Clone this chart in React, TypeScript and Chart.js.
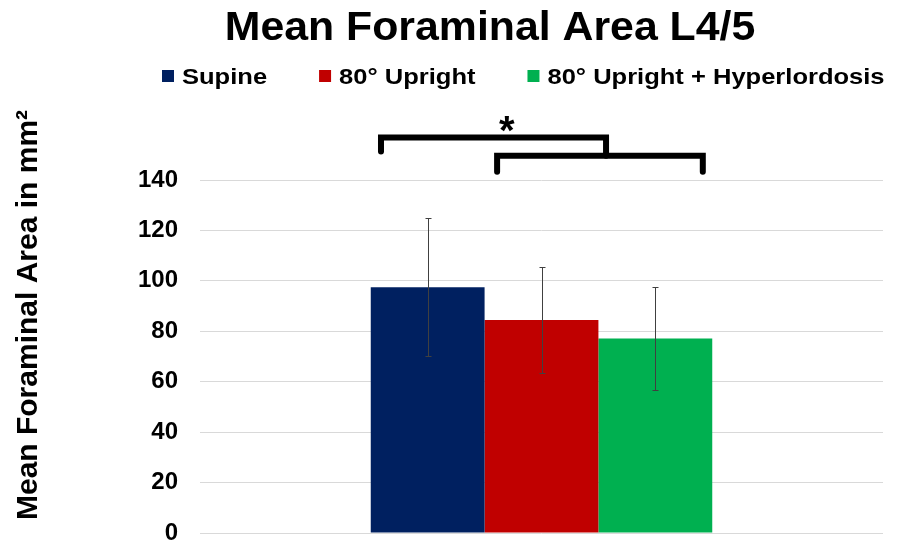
import React, { useEffect, useRef } from 'react';
import { Chart, registerables } from 'chart.js';

Chart.register(...registerables);

// ---- data ----
const categories = ['L4/5'];
const seriesLabels = ['Supine', '80° Upright', '80° Upright + Hyperlordosis'];
const seriesColors = ['#002060', '#C00000', '#00B050'];
const meanSupine = [97.5];
const meanUpright = [84.5];
const meanHyper = [77.1];
const sdSupine = [27.4];
const sdUpright = [21.0];
const sdHyper = [20.3];
const yMin = 0;
const yMax = 140;
const yStep = 20;
const titleText = 'Mean Foraminal Area L4/5';
const yTitleText = 'Mean Foraminal Area in mm²';
const significanceMark = '*';
// significance brackets, levels in y-axis units
const bracketOuterLevels = [156.9, 151.3, 149.6]; // top, left end, right join
const bracketInnerLevels = [149.6, 143.3]; // top, ends
const starLevel = [162.4];

const FONT = '"Liberation Sans", Arial, Helvetica, sans-serif';

const means = [meanSupine, meanUpright, meanHyper];
const sds = [sdSupine, sdUpright, sdHyper];

const overlayPlugin = {
  id: 'overlay',
  afterDatasetsDraw(chart: any) {
    const ctx = chart.ctx;
    const y = chart.scales.y;
    ctx.save();
    ctx.strokeStyle = '#404040';
    ctx.lineWidth = 1;
    sds.forEach((sd, i) => {
      const meta = chart.getDatasetMeta(i);
      meta.data.forEach((bar: any, j: number) => {
        const v = means[i][j];
        const s = sd[j];
        const x = Math.round(bar.x) + 0.5;
        const yt = Math.round(y.getPixelForValue(v + s)) + 0.5;
        const yb = Math.round(y.getPixelForValue(v - s)) + 0.5;
        ctx.beginPath();
        ctx.moveTo(x, yt);
        ctx.lineTo(x, yb);
        ctx.moveTo(x - 3, yt);
        ctx.lineTo(x + 3, yt);
        ctx.moveTo(x - 3, yb);
        ctx.lineTo(x + 3, yb);
        ctx.stroke();
      });
    });
    ctx.restore();
  },
  afterDraw(chart: any) {
    const ctx = chart.ctx;
    const y = chart.scales.y;
    const py = (v: number) => y.getPixelForValue(v);

    ctx.save();
    ctx.fillStyle = '#000';

    // Title
    ctx.font = `bold 40px ${FONT}`;
    ctx.textAlign = 'center';
    ctx.textBaseline = 'alphabetic';
    ctx.save();
    ctx.translate(490, 40);
    ctx.scale(1.07, 1);
    ctx.fillText(titleText, 0, 0);
    ctx.restore();

    // Legend
    ctx.font = `bold 22px ${FONT}`;
    ctx.textAlign = 'left';
    const sx = 1.16;
    let lx = 162;
    seriesLabels.forEach((label, i) => {
      ctx.fillStyle = seriesColors[i];
      ctx.fillRect(lx, 70, 12, 12);
      lx += 12 + 8;
      ctx.fillStyle = '#000';
      ctx.save();
      ctx.translate(lx, 83.5);
      ctx.scale(sx, 1);
      ctx.fillText(label, 0, 0);
      ctx.restore();
      lx += ctx.measureText(label).width * sx + 52;
    });

    // Y axis title
    ctx.font = `bold 30px ${FONT}`;
    ctx.textAlign = 'center';
    ctx.save();
    ctx.translate(37, 315);
    ctx.rotate(-Math.PI / 2);
    ctx.fillText(yTitleText, 0, 0);
    ctx.restore();

    // Significance brackets
    const b = [0, 1, 2].map((i) => chart.getDatasetMeta(i).data[0]);
    const w = b[0].width;
    const xA1 = b[0].x - 0.41 * w;
    const xA2 = b[1].x + 0.567 * w;
    const xB1 = b[1].x - 0.39 * w;
    const xB2 = b[2].x + 0.417 * w;
    ctx.strokeStyle = '#000';
    ctx.lineWidth = 6;
    ctx.lineCap = 'round';
    ctx.lineJoin = 'miter';
    ctx.beginPath();
    ctx.moveTo(xA1, py(bracketOuterLevels[1]));
    ctx.lineTo(xA1, py(bracketOuterLevels[0]));
    ctx.lineTo(xA2, py(bracketOuterLevels[0]));
    ctx.lineTo(xA2, py(bracketOuterLevels[2]));
    ctx.stroke();
    ctx.beginPath();
    ctx.moveTo(xB1, py(bracketInnerLevels[1]));
    ctx.lineTo(xB1, py(bracketInnerLevels[0]));
    ctx.lineTo(xB2, py(bracketInnerLevels[0]));
    ctx.lineTo(xB2, py(bracketInnerLevels[1]));
    ctx.stroke();

    // Asterisk
    ctx.font = `bold 40px ${FONT}`;
    ctx.textAlign = 'left';
    ctx.textBaseline = 'alphabetic';
    const m = ctx.measureText(significanceMark);
    const cx = b[0].x + 0.697 * w;
    const cy = py(starLevel[0]);
    const gx = cx - (m.actualBoundingBoxRight - m.actualBoundingBoxLeft) / 2 + m.actualBoundingBoxLeft;
    const gy = cy - (m.actualBoundingBoxDescent - m.actualBoundingBoxAscent) / 2;
    ctx.fillStyle = '#000';
    ctx.fillText(significanceMark, gx, gy);

    ctx.restore();
  },
};

export default function App() {
  const canvasRef = useRef<HTMLCanvasElement | null>(null);

  useEffect(() => {
    document.body.style.margin = '0';
    const canvas = canvasRef.current;
    if (!canvas) return;
    const chart = new Chart(canvas, {
      type: 'bar',
      data: {
        labels: categories,
        datasets: seriesLabels.map((label, i) => ({
          label,
          data: means[i],
          backgroundColor: seriesColors[i],
          borderWidth: 0,
          categoryPercentage: 0.5,
          barPercentage: 1.0,
        })),
      },
      options: {
        animation: false,
        responsive: false,
        layout: { padding: { top: 180, bottom: 8, left: 0, right: 16 } },
        plugins: {
          legend: { display: false },
          title: { display: false },
          tooltip: { enabled: false },
        },
        scales: {
          x: { display: false },
          y: {
            min: yMin,
            max: yMax,
            ticks: {
              stepSize: yStep,
              color: '#000',
              padding: 22,
              font: { family: FONT, size: 24, weight: 'bold' },
            },
            grid: { color: '#d9d9d9', lineWidth: 1, drawTicks: false },
            border: { display: false },
            afterFit: (scale: any) => {
              scale.width = 200;
              scale.paddingTop = 0;
              scale.paddingBottom = 0;
            },
          },
        },
      },
      plugins: [overlayPlugin],
    } as any);
    return () => chart.destroy();
  }, []);

  return (
    <div style={{ width: 899, height: 541 }}>
      <canvas ref={canvasRef} width={899} height={541} style={{ display: 'block' }} />
    </div>
  );
}
